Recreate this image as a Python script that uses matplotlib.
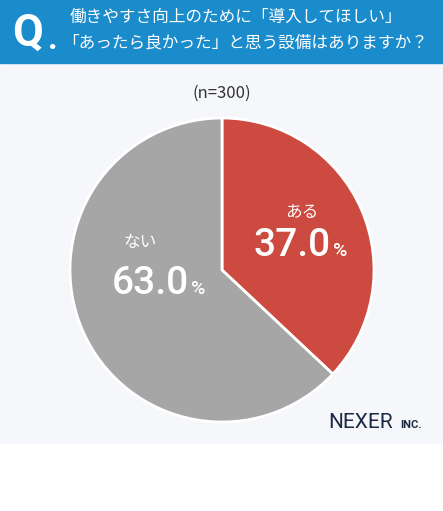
import matplotlib
matplotlib.use("Agg")
import matplotlib.pyplot as plt
from matplotlib.patches import Rectangle

plt.rcParams['font.family'] = ['Noto Sans CJK JP', 'DejaVu Sans']

# --- Dados ---
labels = ["ある", "ない"]
values = [37.0, 63.0]
colors = ["#cc4a40", "#a6a6a6"]
title_lines = ["働きやすさ向上のために「導入してほしい」", "「あったら良かった」と思う設備はありますか？"]
n_text = "(n=300)"

W, H = 443, 511
fig = plt.figure(figsize=(W / 100, H / 100), dpi=100)
fig.patch.set_facecolor("white")

# Fundo em coordenadas de pixel
bg = fig.add_axes([0, 0, 1, 1], zorder=0)
bg.set_xlim(0, W)
bg.set_ylim(H, 0)
bg.axis("off")
bg.add_patch(Rectangle((0, 0), W, 443, color="#f5f7fb", zorder=0))
bg.add_patch(Rectangle((0, 0), W, 63, color="#1a8ccc", zorder=1))
bg.text(12, 34, "Q", color="white", fontsize=32, fontweight="bold", va="center", family="Roboto", zorder=2)
bg.text(48, 40, ".", color="white", fontsize=24, fontweight="bold", va="center", family="Roboto", zorder=2)
bg.text(70, 17, title_lines[0], color="white", fontsize=12, va="center", zorder=2)
bg.text(62, 43, title_lines[1], color="white", fontsize=12, va="center", zorder=2)
bg.text(W / 2, 93, n_text, color="#333333", fontsize=12, ha="center", va="center", zorder=2)
bg.text(393, 422, "NEXER", color="#1c2b44", fontsize=15, ha="right", va="center", family="Roboto", zorder=2)
bg.text(400, 425, "INC.", color="#1c2b44", fontsize=8, fontweight="bold", ha="left", va="center", family="Roboto", zorder=2)

# Pizza
cx, cy, r = 222, 270, 152
ax = fig.add_axes([(cx - r) / W, (H - cy - r) / H, 2 * r / W, 2 * r / H], zorder=1)
ax.pie(values, colors=colors, startangle=90, counterclock=False,
       wedgeprops=dict(edgecolor="white", linewidth=2))
ax.set_xlim(-1, 1)
ax.set_ylim(-1, 1)
ax.set_aspect("equal")
ax.patch.set_alpha(0)

# Rótulos (coordenadas de pixel via transform do fundo)
tr = bg.transData
num = dict(transform=tr, color="white", fontsize=28, fontweight="medium", va="center", family="Roboto", zorder=3)
pct = dict(transform=tr, color="white", fontsize=14, fontweight="medium", va="center", family="Roboto", zorder=3)
fig.text(302, 212, labels[0], transform=tr, color="white", fontsize=12, ha="center", va="center", zorder=3)
fig.text(331, 245, "37.0", ha="right", **num)
fig.text(333, 251, "%", ha="left", **pct)
fig.text(140, 243, labels[1], transform=tr, color="white", fontsize=12, ha="center", va="center", zorder=3)
fig.text(189, 283, "63.0", ha="right", **num)
fig.text(191, 289, "%", ha="left", **pct)

fig.savefig("out.png", dpi=100, facecolor=fig.get_facecolor())
